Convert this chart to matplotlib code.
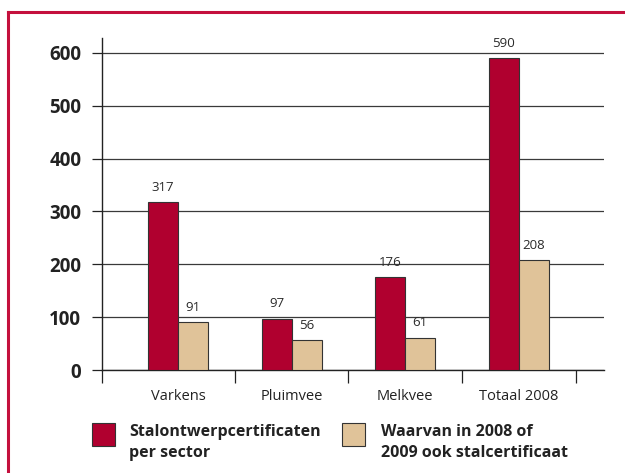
import matplotlib.pyplot as plt
from matplotlib.patches import Rectangle
from matplotlib.lines import Line2D
import numpy as np

# Data
categories = ['Varkens', 'Pluimvee', 'Melkvee', 'Totaal 2008']
ontwerp = [317, 97, 176, 590]
stalcert = [91, 56, 61, 208]
series_labels = ['Stalontwerpcertificaten\nper sector',
                 'Waarvan in 2008 of\n2009 ook stalcertificaat']

red = '#b0002f'
tan = '#e0c399'
frame_red = '#c4103d'

plt.rcParams['font.family'] = ['Open Sans', 'DejaVu Sans']

fig = plt.figure(figsize=(6.25, 4.73), dpi=100)
ax = fig.add_axes([102 / 625, 1 - 370 / 473, 502 / 625, 332 / 473])

x = np.arange(len(categories))
w = 0.265
b1 = ax.bar(x - w / 2, ontwerp, w, color=red, edgecolor='#333333', linewidth=0.8, zorder=3)
b2 = ax.bar(x + w / 2, stalcert, w, color=tan, edgecolor='#333333', linewidth=0.8, zorder=3)

for bars, vals in ((b1, ontwerp), (b2, stalcert)):
    for r, v in zip(bars, vals):
        ax.annotate(str(v), (r.get_x() + r.get_width() / 2, v), xytext=(0, 6),
                    textcoords='offset points', ha='center', va='bottom',
                    fontsize=9.5, color='#2a2a2a')

ax.set_xlim(-0.67, 3.75)
ax.set_ylim(0, 628)
ax.set_yticks([0, 100, 200, 300, 400, 500, 600])
ax.grid(axis='y', color='#3a3a3a', linewidth=0.9, zorder=0)
ax.tick_params(axis='y', length=7, width=0.9, color='#222222', pad=8,
               labelsize=13.5, labelcolor='#222222')
for lbl in ax.get_yticklabels():
    lbl.set_fontweight('bold')

ax.set_xticks([-0.67, 0.5, 1.5, 2.5, 3.5])
ax.set_xticklabels([])
ax.tick_params(axis='x', which='major', length=9, width=0.9, color='#222222')
ax.set_xticks(x, minor=True)
ax.set_xticklabels(categories, minor=True, fontsize=10.5, color='#222222')
ax.tick_params(axis='x', which='minor', length=0, pad=14)

for s in ('top', 'right'):
    ax.spines[s].set_visible(False)
for s in ('left', 'bottom'):
    ax.spines[s].set_linewidth(1.0)
    ax.spines[s].set_color('#222222')

# legend drawn by hand
fig.add_artist(Rectangle((92 / 625, 1 - 446 / 473), 23 / 625, 23 / 473,
                         facecolor=red, edgecolor='#333333', linewidth=0.8,
                         transform=fig.transFigure))
fig.add_artist(Rectangle((342 / 625, 1 - 446 / 473), 23 / 625, 23 / 473,
                         facecolor=tan, edgecolor='#333333', linewidth=0.8,
                         transform=fig.transFigure))
fig.text(129 / 625, 1 - 424 / 473, series_labels[0], fontsize=11.5,
         fontweight='bold', va='top', ha='left', linespacing=1.45, color='#222222')
fig.text(381 / 625, 1 - 424 / 473, series_labels[1], fontsize=11.5,
         fontweight='bold', va='top', ha='left', linespacing=1.45, color='#222222')

# red frame around the chart
fig.add_artist(Line2D([7.5 / 625, 1.0], [1 - 12 / 473, 1 - 12 / 473],
                      color=frame_red, linewidth=2.2, transform=fig.transFigure))
fig.add_artist(Line2D([7.5 / 625, 7.5 / 625], [0, 1 - 12 / 473],
                      color=frame_red, linewidth=2.2, transform=fig.transFigure))

fig.savefig('out.png', dpi=100)
